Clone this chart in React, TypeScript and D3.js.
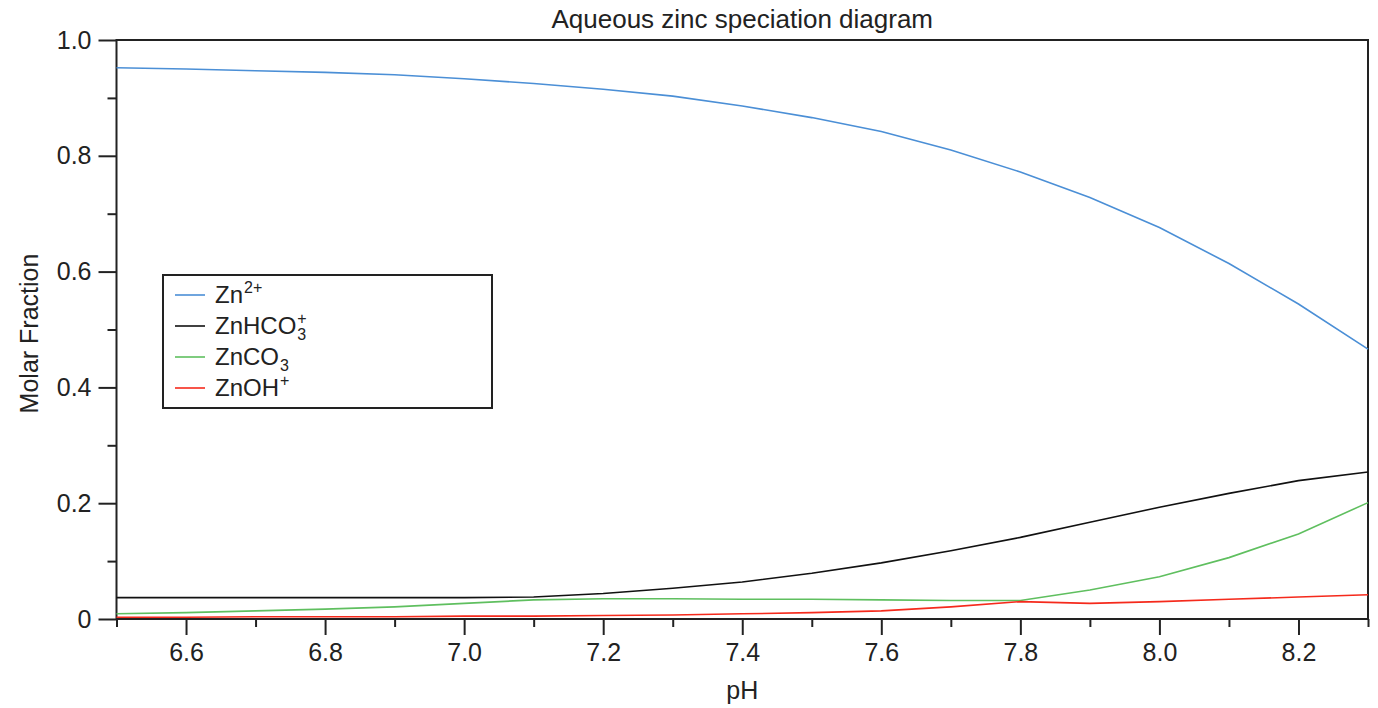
import React, { useEffect, useRef } from 'react';
import * as d3 from 'd3';

// pH grid (0.1 steps)
const pH = [6.5, 6.6, 6.7, 6.8, 6.9, 7.0, 7.1, 7.2, 7.3, 7.4, 7.5, 7.6, 7.7, 7.8, 7.9, 8.0, 8.1, 8.2, 8.3];

// molar fractions
const zn2 = [0.952, 0.950, 0.947, 0.944, 0.940, 0.933, 0.925, 0.915, 0.903, 0.886, 0.866, 0.842, 0.810, 0.772, 0.728, 0.676, 0.614, 0.544, 0.466];
const znhco3 = [0.037, 0.037, 0.037, 0.037, 0.037, 0.037, 0.038, 0.044, 0.053, 0.064, 0.079, 0.097, 0.118, 0.141, 0.167, 0.193, 0.217, 0.239, 0.254];
const znco3 = [0.009, 0.011, 0.014, 0.017, 0.021, 0.027, 0.033, 0.035, 0.035, 0.034, 0.034, 0.033, 0.032, 0.032, 0.050, 0.073, 0.106, 0.147, 0.201];
const znoh = [0.003, 0.003, 0.004, 0.004, 0.004, 0.005, 0.005, 0.006, 0.007, 0.009, 0.011, 0.014, 0.021, 0.030, 0.027, 0.030, 0.034, 0.038, 0.042];

const xMajor = [6.6, 6.8, 7.0, 7.2, 7.4, 7.6, 7.8, 8.0, 8.2];
const xMinor = [6.5, 6.7, 6.9, 7.1, 7.3, 7.5, 7.7, 7.9, 8.1, 8.3];
const yMajor = [0, 0.2, 0.4, 0.6, 0.8, 1.0];
const yMinor = [0.1, 0.3, 0.5, 0.7, 0.9];

// legend: base text, superscript, subscript
const series = [
  { name: 'Zn', sup: '2+', sub: '', values: zn2, color: '#4b8fd6' },
  { name: 'ZnHCO', sup: '+', sub: '3', values: znhco3, color: '#111111' },
  { name: 'ZnCO', sup: '', sub: '3', values: znco3, color: '#5fbf5f' },
  { name: 'ZnOH', sup: '+', sub: '', values: znoh, color: '#f52a1c' },
];

const FONT = '"Liberation Sans", Arial, Helvetica, sans-serif';

const App = () => {
  const ref = useRef<SVGSVGElement>(null);

  useEffect(() => {
    const svg = d3.select(ref.current);
    svg.selectAll('*').remove();

    const left = 116.5, right = 1368, top = 40, bottom = 619;

    const x = d3.scaleLinear().domain([6.5, 8.3]).range([left, right]);
    const y = d3.scaleLinear().domain([0, 1]).range([bottom, top]);

    const axisColor = '#222';

    // x axis, major + minor ticks
    const gxMaj = svg.append('g')
      .attr('transform', `translate(0,${bottom})`)
      .call(d3.axisBottom(x).tickValues(xMajor).tickSize(16).tickSizeOuter(0).tickPadding(8)
        .tickFormat(d => d3.format('.1f')(d as number)));
    svg.append('g')
      .attr('transform', `translate(0,${bottom})`)
      .call(d3.axisBottom(x).tickValues(xMinor).tickSize(8).tickSizeOuter(0).tickFormat(() => ''));

    // y axis
    const gyMaj = svg.append('g')
      .attr('transform', `translate(${left},0)`)
      .call(d3.axisLeft(y).tickValues(yMajor).tickSize(18).tickSizeOuter(0).tickPadding(7)
        .tickFormat(d => (d === 0 ? '0' : d3.format('.1f')(d as number))));
    svg.append('g')
      .attr('transform', `translate(${left},0)`)
      .call(d3.axisLeft(y).tickValues(yMinor).tickSize(9).tickSizeOuter(0).tickFormat(() => ''));

    svg.selectAll('.domain').remove();
    svg.selectAll('.tick line').attr('stroke', axisColor).attr('stroke-width', 2);
    svg.selectAll('.tick text')
      .attr('fill', '#222')
      .style('font-family', FONT)
      .style('font-size', '25px');

    // plot frame
    svg.append('rect')
      .attr('x', left).attr('y', top)
      .attr('width', right - left).attr('height', bottom - top)
      .attr('fill', 'none')
      .attr('stroke', axisColor)
      .attr('stroke-width', 2);

    // lines
    const line = d3.line<number>()
      .x((_, i) => x(pH[i]))
      .y(d => y(d));

    series.forEach(s => {
      svg.append('path')
        .datum(s.values)
        .attr('fill', 'none')
        .attr('stroke', s.color)
        .attr('stroke-width', 1.6)
        .attr('d', line);
    });

    // title and axis labels
    svg.append('text')
      .attr('x', (left + right) / 2).attr('y', 28)
      .attr('text-anchor', 'middle')
      .style('font-family', FONT).style('font-size', '26px').attr('fill', '#222')
      .text('Aqueous zinc speciation diagram');

    svg.append('text')
      .attr('x', (left + right) / 2).attr('y', 699)
      .attr('text-anchor', 'middle')
      .style('font-family', FONT).style('font-size', '25px').attr('fill', '#222')
      .text('pH');

    svg.append('text')
      .attr('transform', `translate(38,${(top + bottom) / 2 + 4}) rotate(-90)`)
      .attr('text-anchor', 'middle')
      .style('font-family', FONT).style('font-size', '25px').attr('fill', '#222')
      .text('Molar Fraction');

    // legend
    const lg = svg.append('g');
    lg.append('rect')
      .attr('x', 163).attr('y', 275)
      .attr('width', 329).attr('height', 133)
      .attr('fill', 'white')
      .attr('stroke', axisColor)
      .attr('stroke-width', 2);

    series.forEach((s, i) => {
      const ly = 295 + i * 31;
      lg.append('line')
        .attr('x1', 175).attr('x2', 205)
        .attr('y1', ly).attr('y2', ly)
        .attr('stroke', s.color).attr('stroke-width', 1.6);
      const t = lg.append('text')
        .attr('x', 215).attr('y', ly + 8)
        .style('font-family', FONT).style('font-size', '24px').attr('fill', '#222')
        .text(s.name);
      const w = (t.node() as SVGTextElement).getComputedTextLength();
      if (s.sup) {
        lg.append('text')
          .attr('x', 215 + w + 1).attr('y', ly - 2)
          .style('font-family', FONT).style('font-size', '16px').attr('fill', '#222')
          .text(s.sup);
      }
      if (s.sub) {
        lg.append('text')
          .attr('x', 215 + w + 1).attr('y', ly + 14)
          .style('font-family', FONT).style('font-size', '16px').attr('fill', '#222')
          .text(s.sub);
      }
    });

    void gxMaj; void gyMaj;
  }, []);

  return (
    <svg
      ref={ref}
      width={1378}
      height={708}
      style={{ position: 'absolute', left: 0, top: 0, background: 'white' }}
    />
  );
};

export default App;
